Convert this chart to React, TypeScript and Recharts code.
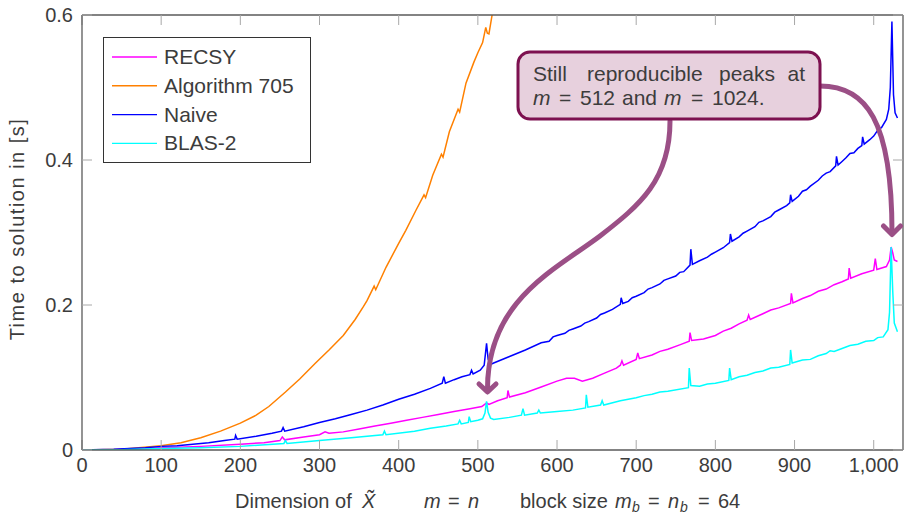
import React from 'react';
import { LineChart, Line, XAxis, YAxis } from 'recharts';

// [m, time in s]
const recsyPoints: [number, number][] = [
  [0, 0], [40, 0.0004], [80, 0.002], [100, 0.003], [150, 0.005], [200, 0.008], [230, 0.010], [250, 0.013], [253, 0.018], [256, 0.014],
  [280, 0.018], [300, 0.021], [307, 0.025], [312, 0.023], [330, 0.025], [350, 0.029], [370, 0.033], [390, 0.037], [410, 0.041], [430, 0.045],
  [450, 0.049], [470, 0.053], [490, 0.057], [505, 0.060], [511, 0.065], [514, 0.063], [525, 0.068], [537, 0.072], [538, 0.082], [540, 0.073],
  [560, 0.079], [580, 0.087], [600, 0.095], [612, 0.099], [622, 0.099], [632, 0.095], [645, 0.099], [660, 0.106], [675, 0.113], [680, 0.117],
  [682, 0.123], [684, 0.117], [700, 0.125], [702, 0.134], [704, 0.126], [720, 0.131], [730, 0.136], [740, 0.139], [755, 0.145], [767, 0.150],
  [768, 0.162], [770, 0.151], [785, 0.153], [800, 0.158], [810, 0.164], [820, 0.168], [830, 0.174], [840, 0.179], [842, 0.186], [844, 0.180],
  [860, 0.188], [870, 0.193], [880, 0.196], [895, 0.202], [896, 0.216], [898, 0.203], [910, 0.209], [920, 0.213], [930, 0.219], [940, 0.222],
  [950, 0.228], [960, 0.232], [968, 0.236], [969, 0.251], [971, 0.237], [985, 0.243], [1000, 0.248], [1002, 0.264], [1004, 0.249], [1016, 0.253],
  [1020, 0.262], [1022, 0.280], [1024, 0.272], [1026, 0.262], [1030, 0.260],
];

const alg705Points: [number, number][] = [
  [0, 0], [50, 0.001], [100, 0.006], [125, 0.010], [150, 0.017], [175, 0.026], [200, 0.037], [220, 0.048], [236, 0.060], [257, 0.080],
  [275, 0.098], [295, 0.120], [312, 0.138], [330, 0.158], [345, 0.180], [355, 0.197], [360, 0.206], [369, 0.226], [371, 0.221], [384, 0.252],
  [400, 0.285], [409, 0.303], [422, 0.331], [432, 0.352], [434, 0.348], [443, 0.379], [454, 0.408], [456, 0.404], [464, 0.439], [475, 0.470],
  [477, 0.466], [485, 0.506], [495, 0.535], [500, 0.548], [506, 0.562], [510, 0.583], [512, 0.575], [514, 0.574], [518, 0.600], [522, 0.625],
  [528, 0.650],
];

const naivePoints: [number, number][] = [
  [0, 0], [40, 0.001], [80, 0.003], [100, 0.005], [120, 0.006], [140, 0.008], [160, 0.010], [180, 0.013], [193, 0.015], [194, 0.020],
  [196, 0.015], [220, 0.019], [240, 0.023], [252, 0.026], [254, 0.031], [256, 0.026], [280, 0.032], [300, 0.038], [320, 0.043], [340, 0.049],
  [360, 0.055], [380, 0.062], [400, 0.070], [420, 0.077], [440, 0.085], [455, 0.092], [457, 0.101], [459, 0.092], [470, 0.097], [480, 0.101],
  [490, 0.104], [492, 0.110], [494, 0.105], [503, 0.110], [508, 0.117], [511, 0.147], [513, 0.125], [516, 0.118], [520, 0.120], [540, 0.129],
  [560, 0.138], [580, 0.148], [590, 0.150], [595, 0.156], [600, 0.158], [610, 0.161], [615, 0.165], [620, 0.167], [630, 0.171], [635, 0.175],
  [640, 0.177], [650, 0.182], [655, 0.187], [660, 0.189], [670, 0.194], [680, 0.201], [681, 0.210], [683, 0.202], [690, 0.205], [695, 0.210],
  [700, 0.212], [710, 0.217], [715, 0.222], [720, 0.224], [730, 0.229], [735, 0.234], [740, 0.236], [750, 0.240], [755, 0.245], [760, 0.246],
  [768, 0.255], [769, 0.277], [771, 0.256], [780, 0.261], [790, 0.266], [795, 0.270], [800, 0.273], [810, 0.279], [818, 0.286], [819, 0.298],
  [821, 0.288], [830, 0.294], [835, 0.299], [840, 0.302], [850, 0.308], [855, 0.314], [860, 0.316], [870, 0.322], [875, 0.328], [880, 0.331],
  [890, 0.337], [894, 0.341], [895, 0.352], [897, 0.343], [905, 0.350], [910, 0.357], [915, 0.359], [920, 0.364], [930, 0.372], [935, 0.378],
  [940, 0.382], [945, 0.384], [952, 0.392], [953, 0.405], [955, 0.393], [960, 0.398], [965, 0.403], [970, 0.409], [975, 0.410], [980, 0.416],
  [985, 0.420], [986, 0.432], [988, 0.422], [995, 0.428], [1000, 0.433], [1005, 0.441], [1010, 0.445], [1016, 0.456], [1019, 0.470], [1021, 0.500],
  [1023, 0.591], [1025, 0.490], [1027, 0.465], [1030, 0.458],
];

const blas2Points: [number, number][] = [
  [0, 0], [50, 0.0005], [100, 0.002], [150, 0.003], [200, 0.005], [255, 0.009], [257, 0.013], [259, 0.009], [300, 0.013], [340, 0.017],
  [380, 0.021], [382, 0.026], [384, 0.021], [420, 0.026], [440, 0.030], [460, 0.033], [475, 0.036], [477, 0.041], [479, 0.036], [488, 0.038],
  [489, 0.046], [491, 0.039], [500, 0.041], [506, 0.043], [509, 0.051], [511, 0.067], [513, 0.052], [516, 0.044], [520, 0.042], [540, 0.045],
  [555, 0.048], [557, 0.057], [559, 0.048], [575, 0.051], [577, 0.055], [579, 0.051], [600, 0.053], [620, 0.055], [636, 0.058], [637, 0.076],
  [639, 0.059], [655, 0.062], [657, 0.068], [659, 0.062], [680, 0.068], [700, 0.072], [710, 0.075], [720, 0.077], [730, 0.080], [740, 0.081],
  [766, 0.086], [767, 0.113], [769, 0.089], [780, 0.088], [790, 0.091], [800, 0.092], [817, 0.096], [818, 0.113], [820, 0.097], [830, 0.101],
  [840, 0.103], [850, 0.107], [860, 0.109], [870, 0.113], [880, 0.114], [894, 0.118], [895, 0.138], [897, 0.120], [910, 0.124], [920, 0.125],
  [930, 0.130], [940, 0.133], [945, 0.137], [950, 0.136], [960, 0.140], [970, 0.144], [980, 0.146], [990, 0.150], [1000, 0.151], [1005, 0.155],
  [1012, 0.156], [1018, 0.166], [1020, 0.190], [1022, 0.280], [1024, 0.220], [1026, 0.175], [1030, 0.163],
];

const xTicks = [0, 100, 200, 300, 400, 500, 600, 700, 800, 900, 1000];
const yTicks = [0, 0.2, 0.4, 0.6];

const series = [
  { name: 'RECSY', color: '#ff00ff', points: recsyPoints },
  { name: 'Algorithm 705', color: '#ff8000', points: alg705Points },
  { name: 'Naive', color: '#0000ff', points: naivePoints },
  { name: 'BLAS-2', color: '#00ffff', points: blas2Points },
];

const toData = (pts: [number, number][]) => pts.map(([m, t]) => ({ m, t }));

const FONT = '"Liberation Sans", Arial, sans-serif';
const TEXT = '#3c3c3c';
const FRAME = '#5a5a5a';
const TICK = '#a8a8a8';

const fmtX = (v: number) => v.toLocaleString('en-US');
const fmtY = (v: number) => (v === 0 ? '0' : v.toFixed(1));

export default function App() {
  const W = 904;
  const H = 517;
  const tickStyle = { fill: TEXT, fontSize: 20, fontFamily: FONT };
  return (
    <div style={{ position: 'absolute', left: 0, top: 0, width: W, height: H, background: '#fff' }}>
      <LineChart width={W} height={H} margin={{ top: 14, right: 0, bottom: 66, left: 81 }}>
        <XAxis
          dataKey="m"
          type="number"
          domain={[0, 1037]}
          ticks={xTicks}
          allowDataOverflow
          height={1}
          tickSize={-10}
          tickMargin={18}
          tickFormatter={fmtX}
          tick={tickStyle}
          tickLine={{ stroke: TICK }}
          axisLine={{ stroke: FRAME, strokeWidth: 1.3 }}
        />
        <XAxis
          xAxisId="top"
          orientation="top"
          dataKey="m"
          type="number"
          domain={[0, 1037]}
          ticks={xTicks}
          allowDataOverflow
          height={1}
          tickSize={-10}
          tick={() => <g />}
          tickLine={{ stroke: TICK }}
          axisLine={{ stroke: FRAME, strokeWidth: 1.3 }}
        />
        <YAxis
          type="number"
          domain={[0, 0.6]}
          ticks={yTicks}
          allowDataOverflow
          width={1}
          tickSize={-10}
          tickMargin={19}
          tickFormatter={fmtY}
          tick={tickStyle}
          tickLine={{ stroke: TICK }}
          axisLine={{ stroke: FRAME, strokeWidth: 1.3 }}
        />
        <YAxis
          yAxisId="right"
          orientation="right"
          type="number"
          domain={[0, 0.6]}
          ticks={yTicks}
          allowDataOverflow
          width={1}
          tickSize={-10}
          tick={() => <g />}
          tickLine={{ stroke: TICK }}
          axisLine={{ stroke: FRAME, strokeWidth: 1.3 }}
        />
        {series.map((s) => (
          <Line
            key={s.name}
            data={toData(s.points)}
            dataKey="t"
            name={s.name}
            type="linear"
            stroke={s.color}
            strokeWidth={1.5}
            dot={false}
            activeDot={false}
            isAnimationActive={false}
          />
        ))}
      </LineChart>
      <svg
        width={W}
        height={H}
        style={{ position: 'absolute', left: 0, top: 0, pointerEvents: 'none' }}
        fontFamily={FONT}
      >
        {/* legend */}
        <rect x={103.5} y={37.5} width={207} height={125} fill="#fff" stroke="#333" strokeWidth={1} />
        {series.map((s, i) => (
          <g key={s.name}>
            <line x1={112} x2={157} y1={57 + i * 28.8} y2={57 + i * 28.8} stroke={s.color} strokeWidth={1.4} />
            <text x={164} y={64 + i * 28.8} fontSize={21} fill={TEXT}>
              {s.name}
            </text>
          </g>
        ))}

        {/* arrows */}
        <g stroke="#9b4f86" strokeWidth={5} fill="none" strokeLinecap="round" strokeLinejoin="round">
          <path d="M670,121 C670,180 640,205 600,236 C555,270 487,300 487.5,390" />
          <polyline points="479,384 487.5,392 496,384" />
          <path d="M820,86 C866,86 892,120 892,233" />
          <polyline points="883.5,226 892,234.5 900.5,226" />
        </g>

        {/* annotation box */}
        <rect x={518} y={52} width={302} height={67} rx={12} ry={12} fill="#e7d0dd" stroke="#7d1150" strokeWidth={3} />
        <g fontSize={21} fill={TEXT}>
          <text x={533} y={81}>Still</text>
          <text x={587} y={81}>reproducible</text>
          <text x={719} y={81}>peaks</text>
          <text x={805} y={81} textAnchor="end">at</text>
          <text x={533} y={105} fontStyle="italic">m</text>
          <text x={559} y={105}>=</text>
          <text x={580} y={105}>512</text>
          <text x={622} y={105}>and</text>
          <text x={664} y={105} fontStyle="italic">m</text>
          <text x={691} y={105}>=</text>
          <text x={712} y={105}>1024.</text>
        </g>

        {/* axis labels */}
        <g fontSize={20} fill={TEXT}>
          <text x={235} y={508}>Dimension of</text>
          <text x={362} y={508} fontStyle="italic">X&#x0303;</text>
          <text x={424} y={508} fontStyle="italic">m</text>
          <text x={448} y={508}>=</text>
          <text x={468} y={508} fontStyle="italic">n</text>
          <text x={520} y={508}>block size</text>
          <text x={615} y={508} fontStyle="italic">m</text>
          <text x={632} y={512} fontSize={14} fontStyle="italic">b</text>
          <text x={648} y={508}>=</text>
          <text x={668} y={508} fontStyle="italic">n</text>
          <text x={680} y={512} fontSize={14} fontStyle="italic">b</text>
          <text x={698} y={508}>=</text>
          <text x={718} y={508}>64</text>
          <text x={24} y={229} textAnchor="middle" letterSpacing={1.5} transform="rotate(-90 24 229)">
            Time to solution in  [s]
          </text>
        </g>
      </svg>
    </div>
  );
}
